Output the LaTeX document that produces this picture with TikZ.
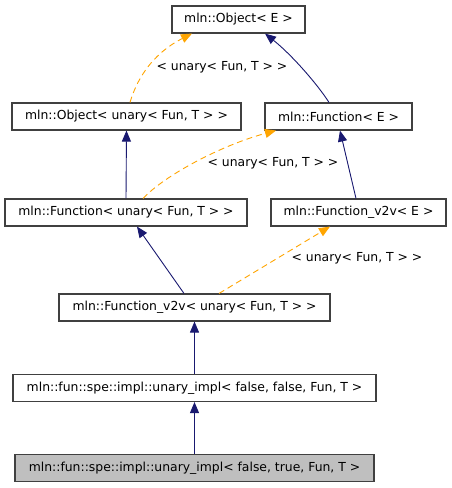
\documentclass[tikz,border=0pt]{standalone}
\usepackage{fontspec}
\setmainfont{DejaVu Sans}
\usetikzlibrary{arrows.meta}
\definecolor{navyedge}{HTML}{191970}
\definecolor{orangeedge}{HTML}{FFA500}
\definecolor{boxborder}{HTML}{404040}
\definecolor{boxgray}{HTML}{BFBFBF}
\begin{document}
\begin{tikzpicture}[x=1pt,y=-1pt,
  cls/.style={draw=boxborder,line width=1.1pt,fill=white,minimum height=27pt,inner sep=0pt,font=\fontsize{12.4}{14}\selectfont},
  cur/.style={cls,fill=boxgray},
  inh/.style={draw=navyedge,line width=0.9pt,-{Triangle[length=11pt,width=9pt]}},
  tmpl/.style={draw=orangeedge,line width=0.9pt,dash pattern=on 6pt off 4pt,-{Triangle[length=11pt,width=9pt]}},
  lbl/.style={font=\fontsize{12.4}{14}\selectfont,inner sep=0pt}]
\fill[white] (0,0) rectangle (451,488);
\useasboundingbox (0,0) rectangle (451,488);
\node[cls,minimum width=133pt] (objE) at (238.5,19.5) {mln::Object< E >};
\node[cls,minimum width=229pt] (objU) at (126.5,116.5) {mln::Object< unary< Fun, T > >};
\node[cls,minimum width=147pt] (funE) at (338.5,116.5) {mln::Function< E >};
\node[cls,minimum width=242pt] (funU) at (126,212.5) {mln::Function< unary< Fun, T > >};
\node[cls,minimum width=175pt] (v2vE) at (358.5,212.5) {mln::Function\_v2v< E >};
\node[cls,minimum width=271pt] (v2vU) at (194.5,307.5) {mln::Function\_v2v< unary< Fun, T > >};
\node[cls,minimum width=363pt] (ff) at (194.5,388) {mln::fun::spe::impl::unary\_impl< false, false, Fun, T >};
\node[cur,minimum width=359pt] (ft) at (194.5,468) {mln::fun::spe::impl::unary\_impl< false, true, Fun, T >};
% edges
\draw[inh] ([xshift=-9.5pt]funE.north) .. controls (318,85) and (292,55) .. ([xshift=26.5pt]objE.south);
\draw[tmpl] ([xshift=3.5pt]objU.north) .. controls (136,82) and (150,55) .. ([xshift=-46.5pt]objE.south);
\node[lbl] (l1) at (222,67) {< unary< Fun, T > >};
\draw[inh] (funU.north) -- (objU.south);
\draw[tmpl] ([xshift=17pt]funU.north) .. controls (165,175) and (222,145) .. ([xshift=-62.5pt]funE.south);
\node[lbl] (l2) at (273,163) {< unary< Fun, T > >};
\draw[inh] ([xshift=-2.5pt]v2vE.north) -- ([xshift=1.5pt]funE.south);
\draw[inh] ([xshift=-10.5pt]v2vU.north) -- ([xshift=11pt]funU.south);
\draw[tmpl] ([xshift=24.5pt]v2vU.north) -- ([xshift=-28.5pt]v2vE.south);
\node[lbl] (l3) at (357,258) {< unary< Fun, T > >};
\draw[inh] (ff.north) -- (v2vU.south);
\draw[inh] (ft.north) -- (ff.south);
\end{tikzpicture}
\end{document}
